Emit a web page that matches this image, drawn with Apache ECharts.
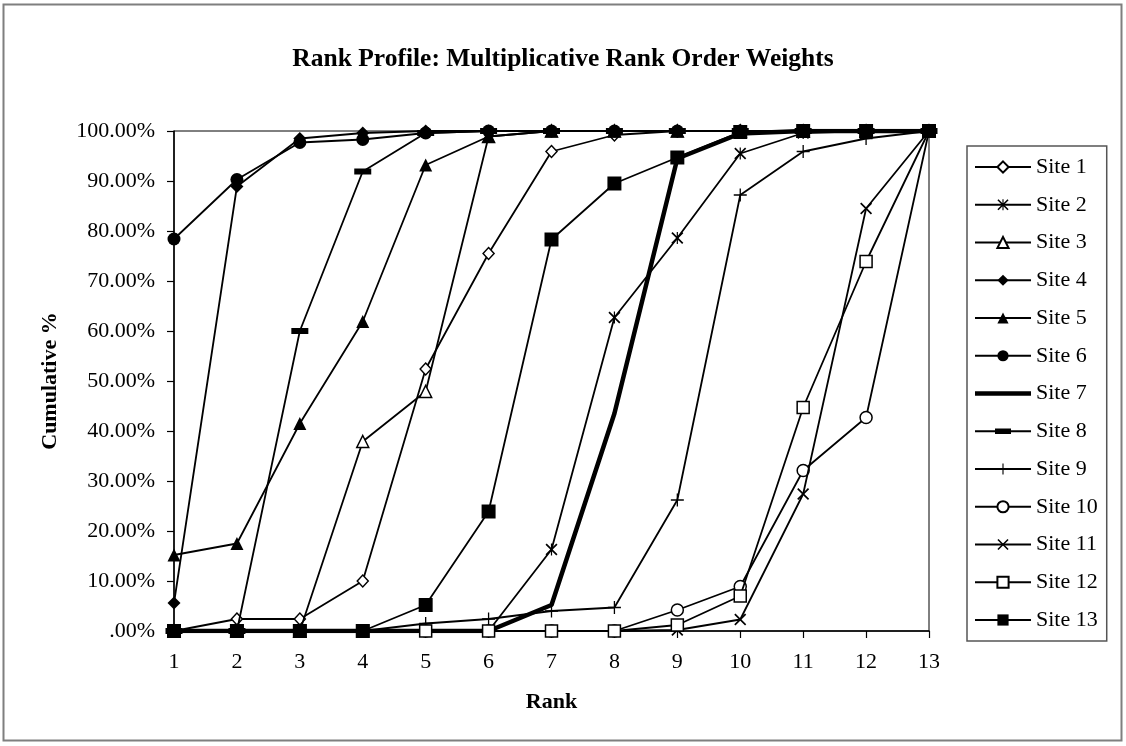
<!DOCTYPE html>
<html>
<head>
<meta charset="utf-8">
<script src="https://cdn.jsdelivr.net/npm/echarts@6/dist/echarts.min.js"></script>
<style>
  html, body { margin: 0; padding: 0; background: #fff; }
  #chart { width: 1126px; height: 746px; }
</style>
</head>
<body>
<div id="chart"></div>
<script>
// ---- data (cumulative %) ----
const ranks = ['1','2','3','4','5','6','7','8','9','10','11','12','13'];
const siteNames = ['Site 1','Site 2','Site 3','Site 4','Site 5','Site 6','Site 7','Site 8','Site 9','Site 10','Site 11','Site 12','Site 13'];
const site1  = [0, 2.4, 2.4, 10.0, 52.4, 75.5, 95.9, 99.2, 100, 100, 100, 100, 100];
const site2  = [0, 0, 0, 0, 0, 0, 16.3, 62.7, 78.6, 95.5, 99.6, 100, 100];
const site3  = [0, 0, 0, 37.9, 47.9, 98.9, 100, 100, 100, 100, 100, 100, 100];
const site4  = [5.6, 88.9, 98.5, 99.6, 100, 100, 100, 100, 100, 100, 100, 100, 100];
const site5  = [15.2, 17.5, 41.5, 61.9, 93.2, 98.9, 100, 100, 100, 100, 100, 100, 100];
const site6  = [78.4, 90.3, 97.7, 98.3, 99.6, 100, 100, 100, 100, 100, 100, 100, 100];
const site7  = [0, 0, 0, 0, 0, 0, 5.2, 43.5, 94.5, 99.5, 100, 100, 100];
const site8  = [0, 0, 60.0, 91.9, 99.6, 100, 100, 100, 100, 100, 100, 100, 100];
const site9  = [0, 0, 0, 0, 1.5, 2.4, 4.0, 4.7, 26.2, 87.2, 95.9, 98.5, 100];
const site10 = [0, 0, 0, 0, 0, 0, 0, 0, 4.2, 8.9, 32.1, 42.7, 100];
const site11 = [0, 0, 0, 0, 0, 0, 0, 0, 0.2, 2.3, 27.4, 84.5, 100];
const site12 = [0, 0, 0, 0, 0, 0, 0, 0, 1.2, 7.0, 44.7, 73.9, 100];
const site13 = [0, 0, 0, 0, 5.2, 23.9, 78.3, 89.5, 94.7, 99.8, 100, 100, 100];
const siteValues = [site1, site2, site3, site4, site5, site6, site7, site8, site9, site10, site11, site12, site13];

// ---- marker styles ----
const PLUS = 'path://M9,0H11V20H9Z M0,9H20V11H0Z';
const XMARK = 'path://M2,0L10,8L18,0L20,2L12,10L20,18L18,20L10,12L2,20L0,18L8,10L0,2Z';
const ASTER = 'path://M2,0L10,8L18,0L20,2L12,10L20,18L18,20L10,12L2,20L0,18L8,10L0,2Z M9,0H11V20H9Z';
const OPEN = { color: '#fff', borderColor: '#000', borderWidth: 1.5 };
const FILLED = { color: '#000', borderColor: '#000', borderWidth: 0 };
const markers = [
  { symbol: 'diamond', size: [11, 12], item: OPEN },
  { symbol: ASTER, size: 12, item: FILLED },
  { symbol: 'triangle', size: 12, item: OPEN },
  { symbol: 'diamond', size: 13, item: FILLED },
  { symbol: 'triangle', size: 13, item: FILLED },
  { symbol: 'circle', size: 13, item: FILLED },
  { symbol: 'none', size: 0, item: FILLED, width: 4.5 },
  { symbol: 'rect', size: [17, 6], item: FILLED },
  { symbol: PLUS, size: 13, item: FILLED },
  { symbol: 'circle', size: 12, item: OPEN },
  { symbol: XMARK, size: 12, item: FILLED },
  { symbol: 'rect', size: 12, item: OPEN },
  { symbol: 'rect', size: 14, item: FILLED }
];

// legend icons for the two sites whose default icon would be wrong
// (tiny corner dots keep the path's box at the full 56x14 icon size)
const BOUNDS = 'M0,0H0.02V0.02H0Z M55.98,13.98H56V14H55.98Z ';
const legendIcons = {
  'Site 7': 'path://' + BOUNDS + 'M0,4.8H56V9.2H0Z',
  'Site 8': 'path://' + BOUNDS + 'M0,6.1H56V7.9H0Z M20,4.2H36V9.8H20Z'
};

const FONT = '"Liberation Serif", "Times New Roman", serif';

const series = siteNames.map((name, i) => ({
  name: name,
  type: 'line',
  data: siteValues[i],
  symbol: markers[i].symbol,
  symbolSize: markers[i].size,
  showSymbol: markers[i].symbol !== 'none',
  itemStyle: Object.assign({}, markers[i].item),
  lineStyle: { color: '#000', width: markers[i].width || 1.8 },
  emphasis: { disabled: true },
  animation: false,
  z: 2 + i
}));

const legendData = siteNames.map(n => legendIcons[n]
  ? { name: n, icon: legendIcons[n], itemStyle: { color: '#000', borderWidth: 0 } }
  : { name: n });

const chart = echarts.init(document.getElementById('chart'), null, { renderer: 'canvas' });
chart.setOption({
  backgroundColor: '#fff',
  animation: false,
  title: {
    text: 'Rank Profile: Multiplicative Rank Order Weights',
    left: 'center',
    top: 41,
    textStyle: { fontFamily: FONT, fontSize: 25.5, fontWeight: 'bold', color: '#000' }
  },
  grid: {
    left: 174, right: 197, top: 131, bottom: 115,
    show: true, borderColor: '#000', borderWidth: 1, backgroundColor: 'transparent'
  },
  legend: {
    orient: 'vertical',
    left: 967, top: 146,
    padding: [10, 9, 10, 7],
    itemWidth: 56, itemHeight: 14, itemGap: 15.75,
    borderColor: '#555', borderWidth: 1.5,
    data: legendData,
    textStyle: { fontFamily: FONT, fontSize: 22, color: '#000', lineHeight: 22 }
  },
  xAxis: {
    type: 'category',
    data: ranks,
    boundaryGap: false,
    name: 'Rank',
    nameLocation: 'middle',
    nameGap: 60,
    nameTextStyle: { fontFamily: FONT, fontSize: 22, fontWeight: 'bold', color: '#000' },
    axisLine: { lineStyle: { color: '#000', width: 1.5 } },
    axisTick: { show: true, length: 7, lineStyle: { color: '#000', width: 1.2 } },
    axisLabel: { fontFamily: FONT, fontSize: 22, color: '#000', margin: 20 },
    splitLine: { show: false }
  },
  yAxis: {
    type: 'value',
    min: 0, max: 100, interval: 10,
    name: 'Cumulative %',
    nameLocation: 'middle',
    nameGap: 113,
    nameRotate: 90,
    nameTextStyle: { fontFamily: FONT, fontSize: 22, fontWeight: 'bold', color: '#000' },
    axisLine: { show: true, lineStyle: { color: '#000', width: 1.5 } },
    axisTick: { show: true, length: 7, lineStyle: { color: '#000', width: 1.2 } },
    axisLabel: {
      fontFamily: FONT, fontSize: 22, color: '#000', margin: 19,
      formatter: v => (v === 0 ? '.00%' : v.toFixed(2) + '%')
    },
    splitLine: { show: false }
  },
  graphic: [{
    type: 'rect',
    shape: { x: 3.5, y: 4.5, width: 1118, height: 736 },
    style: { fill: 'none', stroke: '#7f7f7f', lineWidth: 2 },
    silent: true, z: -1
  }],
  series: series
});
</script>
</body>
</html>
